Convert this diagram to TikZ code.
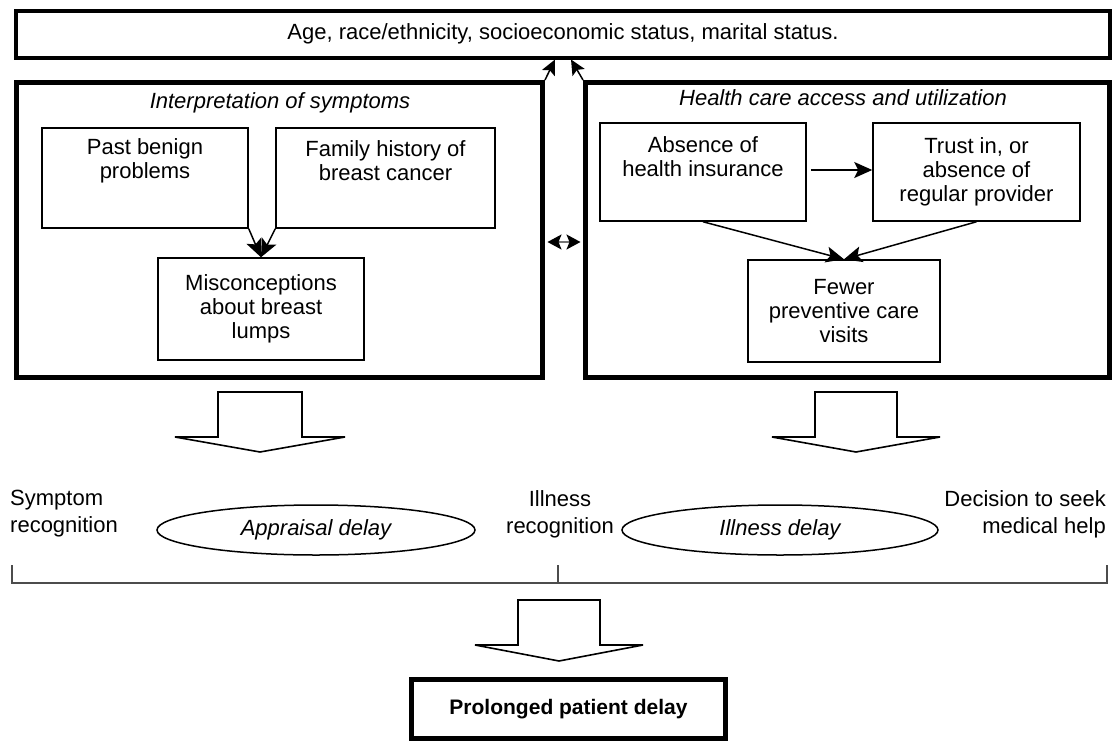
\documentclass[tikz,border=0pt]{standalone}
\usepackage{fontspec}
\setmainfont{Liberation Sans}
\usetikzlibrary{shapes.geometric,arrows.meta,calc}

\begin{document}
\begin{tikzpicture}[x=1pt,y=-1pt,
  txt/.style={font=\fontsize{22}{24}\selectfont, align=center, inner sep=0pt},
  ttl/.style={font=\fontsize{22}{24}\selectfont\itshape, align=center, inner sep=0pt},
  lbl/.style={font=\fontsize{22}{27}\selectfont, inner sep=0pt},
  bigframe/.style={draw, line width=5pt, inner sep=0pt},
  bandbox/.style={draw, line width=4pt, inner sep=0pt},
  smallbox/.style={draw, line width=1.5pt, inner sep=0pt, align=center,
    font=\fontsize{22}{24}\selectfont},
  oval/.style={ellipse, draw, line width=1.5pt, inner sep=0pt,
    font=\fontsize{22}{24}\selectfont\itshape},
  head/.style={Stealth[length=18pt,width=16pt,inset=4pt]},
  link/.style={line width=1.5pt, -{Stealth[length=18pt,width=16pt,inset=4pt]}},
  blockarrow/.style={draw, line width=1.6pt, fill=white, line join=miter},
  scale line/.style={draw=black!70, line width=1.3pt}
]
\useasboundingbox (0,0) rectangle (1120,742);

% background factors
\node[bandbox, txt, minimum width=1094pt, minimum height=47pt] (factors) at (563,34)
  {Age, race/ethnicity, socioeconomic status, marital status.};

% the two main panels
\node[bigframe, minimum width=526pt, minimum height=295pt] (lframe) at (279.5,230) {};
\node[bigframe, minimum width=524pt, minimum height=295pt] (rframe) at (847.5,230) {};
\node[ttl] (ltitle) at (280,103) {Interpretation of symptoms};
\node[ttl] (rtitle) at (843,98) {Health care access and utilization};

% left panel content
\node[smallbox, minimum width=206pt, minimum height=100pt] (past) at (145,178) {};
\node[txt] (pasttext) at (145,161) {Past benign\\problems};
\node[smallbox, minimum width=219pt, minimum height=100pt] (family) at (385.5,178) {};
\node[txt] (familytext) at (385.5,161) {Family history of\\breast cancer};
\node[smallbox, minimum width=206pt, minimum height=102pt] (misc) at (261,309)
  {Misconceptions\\about breast\\lumps};
\draw[link] (past.south east) -- (misc.north);
\draw[link] (family.south west) -- (misc.north);

% right panel content
\node[smallbox, minimum width=206pt, minimum height=98pt] (absence) at (703,172) {};
\node[txt] (absencetext) at (703,157) {Absence of\\health insurance};
\node[smallbox, minimum width=207pt, minimum height=98pt] (trust) at (976.5,172)
  {Trust in, or\\absence of\\regular provider};
\node[smallbox, minimum width=192pt, minimum height=102pt] (fewer) at (844,311)
  {Fewer\\preventive care\\visits};
\draw[link] ($(absence.east)+(4,-2)$) -- ($(trust.west)+(0,-2)$);
\draw[link] (absence.south) -- (fewer.north);
\draw[link] (trust.south) -- (fewer.north);

% links between panels and the background factors
\draw[line width=1.5pt, -{Stealth[length=15pt,width=14pt,inset=3pt]}]
  (lframe.north east) -- ($(factors.south)+(-8,0)$);
\draw[line width=1.5pt, -{Stealth[length=15pt,width=14pt,inset=3pt]}]
  (rframe.north west) -- ($(factors.south)+(8,0)$);
\draw[line width=1.5pt, draw=black!55,
  {Stealth[length=14pt,width=15pt,inset=3pt,black]}-{Stealth[length=14pt,width=15pt,inset=3pt,black]}]
  ($(lframe.east)+(2.5,12)$) -- ($(rframe.west)+(-2.5,12)$);

% block arrows
\coordinate (la) at (260,392);
\coordinate (ra) at (856,392);
\coordinate (ba) at (559,600);
\draw[blockarrow, shift={(la)}] (-42,0) -- (42,0) -- (42,45) -- (85,45) -- (0,60)
  -- (-85,45) -- (-42,45) -- cycle;
\draw[blockarrow, shift={(ra)}] (-41,0) -- (41,0) -- (41,45) -- (84,45) -- (0,60)
  -- (-84,45) -- (-41,45) -- cycle;
\draw[blockarrow, shift={(ba)}] (-41,0) -- (41,0) -- (41,45) -- (84,45) -- (0,61)
  -- (-84,45) -- (-41,45) -- cycle;

% timeline
\node[lbl, anchor=west, align=left] (symptom) at (10,514) {Symptom\\recognition};
\node[lbl, align=center] (illness) at (560,514) {Illness\\recognition};
\node[lbl, anchor=east, align=right] (decision) at (1106,514) {Decision to seek\\medical help};
\node[oval, minimum width=318pt, minimum height=50pt] (appraisal) at (316,530) {Appraisal delay};
\node[oval, minimum width=316pt, minimum height=50pt] (idelay) at (780,530) {Illness delay};
\coordinate (t0) at (12,583);
\coordinate (t1) at (558,583);
\coordinate (t2) at (1107,583);
\draw[scale line] ($(t0)+(0,-18)$) -- (t0) -- (t2) -- ($(t2)+(0,-18)$);
\draw[scale line] (t1) -- ($(t1)+(0,-18)$);

% outcome
\node[bandbox, line width=5pt, minimum width=314pt, minimum height=59pt,
  font=\fontsize{21}{24}\selectfont\bfseries, inner sep=0pt] (outcome) at (568.5,709)
  {Prolonged patient delay};
\end{tikzpicture}
\end{document}
